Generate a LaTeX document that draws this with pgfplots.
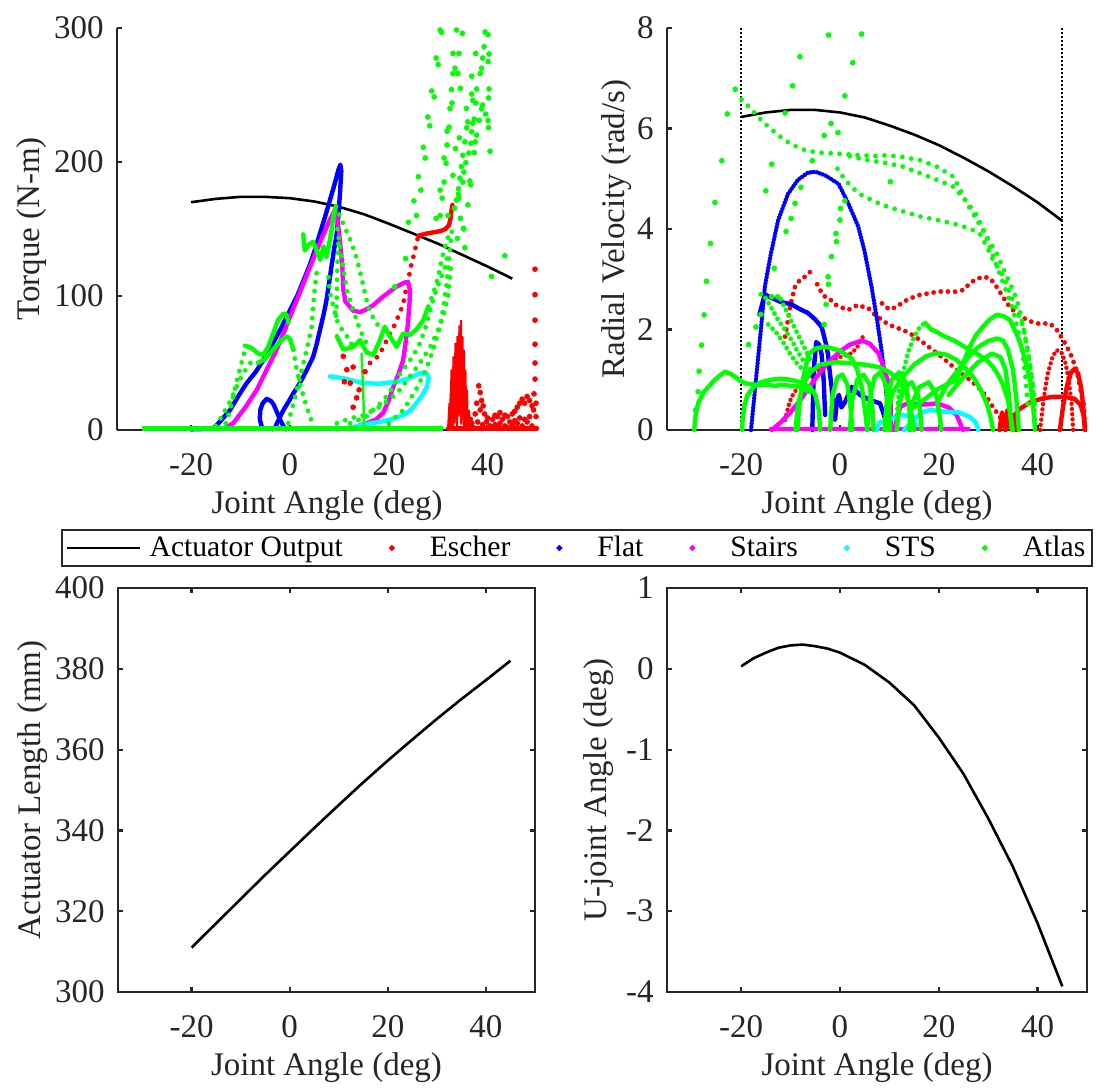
\documentclass[border=0pt]{standalone}
\usepackage{fontspec}
\setmainfont{Liberation Serif}
\usepackage{pgfplots}
\pgfplotsset{compat=1.18}
\definecolor{mred}{rgb}{1,0,0}
\definecolor{mblue}{rgb}{0,0,1}
\definecolor{mmag}{rgb}{1,0,1}
\definecolor{mcyan}{rgb}{0,1,1}
\definecolor{mgreen}{rgb}{0,1,0}
\definecolor{axc}{rgb}{0.15,0.15,0.15}
\newcommand{\fs}{\fontsize{16.5}{19}\selectfont}
\pgfplotsset{
 base/.style={scale only axis, xmin=-35, xmax=50, xtick={-20,0,20,40}, xticklabels={-20,0,20,40},
   tick align=inside, major tick length=2.6pt,
   axis line style={line width=1.1pt, draw=axc},
   tick style={line width=1.1pt, draw=axc},
   tick label style={font=\fs, text=axc},
   xticklabel style={anchor=base, yshift=-22.5pt, inner sep=0pt},
   yticklabel style={anchor=east, xshift=-6.5pt, inner sep=0pt},
   label style={font=\fs, text=axc},
   xlabel={Joint Angle (deg)},
   xlabel style={at={(axis description cs:0.5,-0.187)}, anchor=center},
   clip=false},
 sol/.style={no markers, line width=2.2pt, line join=round, line cap=round, forget plot},
 thin/.style={no markers, line width=1.2pt, line join=round, line cap=round, forget plot},
 chain/.style={no markers, line width=2.4pt, line cap=round, dash pattern=on 0pt off 4.5pt, forget plot},
 dchain/.style={no markers, line width=2.2pt, line cap=round, dash pattern=on 0pt off 2.6pt, forget plot},
 pts/.style={only marks, mark=*, mark size=1.2pt, forget plot},
 lgline/.style={legend image code/.code={\draw[##1, overlay] (0pt,0pt) -- (36.5pt,0pt); \path (0pt,0pt) -- (22.4pt,0pt);}},
}
\begin{document}
\begin{tikzpicture}
\useasboundingbox (0,0) rectangle (550.5pt,-544pt);
%================ TOP LEFT
\begin{axis}[axis x line*=bottom, axis y line*=left, base,
  at={(58.5pt,-215pt)}, anchor=south west, width=210pt, height=201pt,
  ymin=0, ymax=300, ytick={0,100,200,300}, yticklabels={0,100,200,300},
  ylabel={Torque (N-m)}, ylabel style={at={(axis description cs:-0.2036,0.5)}, anchor=center},
  legend columns=6,
  legend style={at={(axis description cs:1.096,-0.2935)}, anchor=center, draw=axc, line width=1pt,
    font=\fontsize{14.8}{17}\selectfont, inner xsep=2pt, inner ysep=1.7pt,
    nodes={inner sep=1.5pt},
    /tikz/every odd column/.append style={column sep=16.6pt},
    /tikz/every even column/.append style={column sep=22.1pt}},
  legend cell align=left]
\addlegendimage{black, line width=1.2pt, lgline}
\addlegendimage{only marks, mark=*, mark size=0.9pt, mred}
\addlegendimage{only marks, mark=*, mark size=0.9pt, mblue}
\addlegendimage{only marks, mark=*, mark size=0.9pt, mmag}
\addlegendimage{only marks, mark=*, mark size=0.9pt, mcyan}
\addlegendimage{only marks, mark=*, mark size=0.9pt, mgreen}
\legend{Actuator Output, Escher, Flat, Stairs, STS, Atlas}
% actuator
\addplot[black, no markers, line width=1.3pt, forget plot] coordinates {(-20,170)(-15,172.5)(-10,174)(-5,174)(0,173)(5,170.5)(10,166.5)(15,161)(20,154)(25,146.5)(30,139)(35,130.5)(40,122)(45,113)};
% Escher
\addplot[mred, pts] coordinates {(10.8,55)(12.8,47)(15.2,43.5)(12.2,35)(11,36)(12.8,17)(13.5,24)(11.5,45)(14,30)};
\addplot[mred, chain] coordinates {(16.2,50)(17.3,53)(18.2,57)(19.2,64)(20.2,72)(21,77)(21.6,82)(22.3,88)(22.9,94)(23.4,103)(23.9,112)(24.3,118)(24.6,124)(25.1,131)(25.6,139)(26,145)};
\addplot[mred, sol] coordinates {(26,145)(27.5,146.5)(29,147.5)(30.5,148.5)(31.5,150)(32.2,153)(32.5,158)(32.7,164)(32.9,168)};
\addplot[mred, no markers, line width=1.1pt, forget plot] coordinates {(32,0)(32.3,20)(32.5,2)(32.7,45)(32.9,3)(33.1,55)(33.3,5)(33.5,65)(33.7,8)(33.9,70)(34.1,10)(34.3,78)(34.5,12)(34.6,82)(34.8,15)(34.9,70)(35.1,8)(35.2,60)(35.4,5)(35.5,45)(35.7,3)(35.8,30)(36,2)(36.2,15)(36.5,0)};
\addplot[mred, no markers, line width=1.1pt, forget plot] coordinates {(32.2,0)(32.6,30)(33,0)(33.4,50)(33.8,2)(34.2,60)(34.7,4)(35,40)(35.3,2)(35.6,25)(36,0)};
\addplot[mred, sol] coordinates {(32,1.2)(50,1.2)};
\addplot[mred, pts] coordinates {(36.8,5)(37.5,12)(38.2,33)(38.5,28)(38.8,22)(39.1,18)(39.4,12)(39.8,6)(40.5,3)(41,8)(41.5,4)(42,10)(42.5,5)(43,8)(43.5,3)(44,10)(44.5,6)(45,12)(45.5,14)(46,17)(46.5,20)(47,23)(47.5,20)(48,25)(48.5,22)(49,18)(49.3,15)(48.5,10)(47.5,8)(46,5)(44,2)(37,2)(38,6)(39,4)(40,9)(42,2)(45,4)(47,3)(48,6)(49,3)(46.5,9)(45.5,7)(43.5,11)(42.5,13)(41.5,11)(38.5,15)(37.8,20)(36.5,8)(49.6,120)(49.6,101)(49.6,82)(49.6,64)(49.6,50)(49.6,38)(49.4,27)(49.8,20)(49.8,10)};
% Flat
\addplot[mblue, sol] coordinates {(-20,0.5)(-17,0.8)(-15.5,1.5)(-14.8,3.7)(-13.5,9)(-12.1,15)(-10.5,25)(-8.8,34.8)(-7,43)(-5.4,52)(-3.7,63)(-2,74.6)(-0.3,87)(1.4,99.5)(2.8,112)(4.1,124)(5.1,135)(6.1,147)(7.1,159)(8.1,171.6)(9,183)(9.8,194)(10.2,198)(10.4,193)(10.1,175)(9.8,160)(9.5,147)(8.9,134)(8.4,122)(7.9,109)(7.4,97)(6.8,86)(6.1,75)(5.4,64)(4.7,54.7)(3.7,47)(2.7,39.8)(1.7,33)(0.7,27.4)(-0.3,21)(-1.3,15)(-2.5,6)(-3,2)(-3.5,0.5)};
\addplot[mblue, sol] coordinates {(-5.6,1)(-6.1,8)(-6,15)(-5.5,20)(-4.7,23.3)(-3.8,21.5)(-3.3,19)(-2.6,13)(-1.9,7)(-1.2,2)(-0.8,0.5)};
% Stairs
\addplot[mmag, sol] coordinates {(-13.5,0.5)(-11.5,5)(-9,17)(-6.7,30)(-4.7,45)(-2.7,60)(-1.3,72)(0,84.5)(1.4,97)(2.7,109)(4,121)(5.4,134)(6.8,146)(8.1,157)(9.1,164)(9.6,158)(10.1,142)(10.4,130)(10.6,122)(10.8,105)(11.2,96)(12.8,89)(14.2,88)(15.5,90)(16.8,93)(19,100)(21.6,107)(23.2,110)(23.9,110.5)(24.3,104)(24.2,95)(23.9,80)(23.4,65)(22.9,52)(22,42)(20.9,32)(20,22)(18.9,13)(17.5,8)(15.5,5)(13,2)(10,0.8)};
% STS
\addplot[mcyan, sol] coordinates {(8.1,40)(11,38.5)(14.8,35)(18,34.5)(21.6,36)(24,38.5)(26.3,42.3)(27.6,42.5)(28.1,39)(27.7,32)(26.8,26)(25.6,20)(24.5,15)(22.9,11)(20.5,8)(18.2,6)(16.2,5)(14,3)(12,1.5)};
% Atlas
\addplot[mgreen, no markers, line width=2.4pt, forget plot] coordinates {(-30,1)(31,1)};
\addplot[mgreen, sol] coordinates {(-9.1,63)(-7.7,61)(-6.4,57)(-5.4,56)(-4.4,62)(-3.4,72)(-2.4,82)(-1.3,87)(-0.7,86)(-0.3,80)};
\addplot[mgreen, sol] coordinates {(-6.5,50)(-5,53)(-3.4,60)(-2,66)(-0.7,70)(0,68)(0.7,60)};
\addplot[mgreen, chain] coordinates {(-15,3)(-13.5,12)(-12,22)(-10.8,32)(-9.5,42)(-8,50)};
\addplot[mgreen, chain] coordinates {(-13,5)(-12.1,15)(-11.3,28)(-10.5,40)(-9.8,50)(-9.1,60)};
\addplot[mgreen, chain] coordinates {(5.4,117)(5,104.5)(4.7,92)(4.4,77)(3.4,60)(2.4,45)(1.4,30)(0.7,20)(0,10)(-0.5,3)};
\addplot[mgreen, chain] coordinates {(0.7,60)(1.2,48)(2,35)(3,22)(4,10)(5,3)};
\addplot[mgreen, sol] coordinates {(2.7,146)(3,134)(3.7,138)(4.7,140.5)(5.4,134)(6.1,127)(6.8,137)(7.4,129)(8.1,142)(8.8,159)(9.3,167)};
\addplot[mgreen, chain] coordinates {(9.3,167)(10.8,154)(12.2,142)(13.2,132)(14,121)(14.7,110)(15.3,100)(15.9,92)(16.5,86)(17.5,80)(18.5,74)};
\addplot[mgreen, chain] coordinates {(9.8,139)(9.6,122)(9.5,104)(9.4,90)(9.3,80)};
\addplot[mgreen, chain] coordinates {(9.6,150)(10.5,128)(11.5,104)(12.8,89.5)(14.2,74.6)(15.5,64.7)};
\addplot[mgreen, chain] coordinates {(7.8,114)(8.1,102)(8.8,92)(9.5,82)(10.8,73)(12.2,67)(12.8,60)};
\addplot[mgreen, sol] coordinates {(9.5,70)(10.8,60)(12.8,62)(14.2,67)(15.5,58)(16.9,56)(18.2,67)(19.2,77)(20.2,70)(21.6,62)(22.9,72)(24.3,71)(25.6,75)(27,82)(28,92)};
\addplot[mgreen, chain] coordinates {(28,92)(29,102)(30,114)(30.7,127)(31.4,137)(32,144)};
\addplot[mgreen, thin] coordinates {(14.5,57)(14.7,40)(14.9,20)(15,3)};
\addplot[mgreen, chain] coordinates {(12.2,5)(15.5,10)(18.9,22)(20.9,32)(22.3,42)(24.3,52)(26,62)(27.3,74.6)(28.4,89.5)(29.4,102)(30.4,112)(31.4,122)(32,132)};
\addplot[mgreen, chain] coordinates {(9.5,5)(12.2,8.7)(14.9,11)(18.2,17.4)(21.6,27)(24.3,40)(26.3,50)(28.4,62)(29.7,72)(31,84.5)(32,99.5)(32.4,114)(32.7,127)};
\addplot[mgreen, chain] coordinates {(20,5)(23,15)(25.5,30)(27.5,45)(29,60)(30.2,75)(31,90)(31.6,105)(32,120)(32.4,135)(32.8,150)};
\addplot[mgreen, pts] coordinates {(30.4,298.5)(33.7,298.5)(34.9,296)(39.5,297)(40.1,295)(29.6,277.6)(33,281)(34.2,281)(37.6,281)(39.3,286)(40.3,280.6)(39,277.6)(40.1,275)(38.8,270)(33.4,270)(33,266)(34,266)(36.8,264)(38.5,266)(28.7,253)(32.7,254)(36.8,250.7)(37.8,254.5)(40.3,254.5)(40.2,247.8)(37,246)(37.6,244)(32.8,244)(32.4,240)(39,242.5)(38.8,239.6)(39.6,235.8)(27.9,233.6)(37.3,232)(38.3,231)(36,230)(40.1,231)(37,229)(32.2,226)(40.2,225.6)(31.8,223)(35.8,225.6)(36.8,222.6)(37.8,220)(27,211)(31.8,212.7)(35.4,215)(36.6,214)(37.5,215)(40.5,208)(35,205)(36.2,206.7)(37.3,207)(31.2,203)(31.6,199)(35.6,199.5)(34.7,196.5)(35.2,192.5)(26,189)(34.4,188)(35,185)(36.4,185.8)(36.6,183)(31.2,185)(25.1,171)(30.4,179)(34.1,180)(34.1,176)(36,168)(30.8,173)(33.7,171.6)(24,155)(29.6,158)(30.4,160)(35.2,150)(33.3,165.6)(40.8,114.6)(35.4,136)(30,272.7)(29.2,248.6)(28.3,227)(27.4,203)(26.5,179)(25.6,160)(23.4,128)(21.2,106.7)(30.7,296.8)(35.1,150.5)(33.9,143)(34.5,158)(32,160)(34.2,173)(33,190)(33.5,210)(34.3,218)(35.7,240)(34.5,255)(43.5,130)};
\end{axis}
%================ TOP RIGHT
\begin{axis}[axis x line*=bottom, axis y line*=left, base,
  at={(333.5pt,-215pt)}, anchor=south west, width=210pt, height=201pt,
  ymin=0, ymax=8, ytick={0,2,4,6,8}, yticklabels={0,2,4,6,8},
  ylabel={Radial Velocity (rad/s)}, ylabel style={at={(axis description cs:-0.119,0.5)}, anchor=center}]
\addplot[black, no markers, line width=1.3pt, forget plot] coordinates {(-20,6.23)(-15,6.32)(-10,6.37)(-5,6.37)(0,6.32)(5,6.22)(10,6.06)(15,5.88)(20,5.67)(25,5.42)(30,5.15)(35,4.85)(40,4.53)(45,4.16)};
\addplot[black, no markers, line width=0.9pt, dash pattern=on 1pt off 1pt, forget plot] coordinates {(-20,0)(-20,8)};
\addplot[black, no markers, line width=0.9pt, dash pattern=on 1pt off 1pt, forget plot] coordinates {(45,0)(45,8)};
% Escher
\addplot[mred, chain, dash pattern=on 0pt off 3.6pt] coordinates {(-11.1,1.86)(-10.5,2.2)(-10,2.5)(-9.1,2.85)(-8,3.0)(-7.1,3.05)(-6.3,3.12)(-5.7,3.18)};
\addplot[mred, chain, dash pattern=on 0pt off 3.6pt] coordinates {(-4.6,2.9)(-3.8,2.75)(-3,2.65)(-2,2.6)(-1,2.5)(0,2.45)(1.7,2.39)(2.8,2.45)(3.7,2.49)(4.7,2.45)(5.7,2.43)(7,2.3)(8.5,2.19)(9.5,2.12)(11,2.05)(12.8,1.99)(14.5,1.9)(16.2,1.79)(18,1.65)(19.6,1.53)(21,1.42)(22.9,1.26)(24.5,1.13)(26.3,1.0)(28,0.85)(29.7,0.66)(31,0.45)(32.4,0.26)(33,0)};
\addplot[mred, chain, dash pattern=on 0pt off 3.6pt] coordinates {(8.5,2.52)(10,2.4)(11.5,2.45)(12.8,2.55)(14.5,2.63)(16.2,2.69)(18,2.72)(19.6,2.75)(21,2.76)(22.9,2.75)(24,2.76)(25,2.79)(26.3,2.92)(27.5,3.0)(29,3.05)(30.4,3.02)(31.7,2.85)(33,2.65)(34,2.5)(35,2.39)(36.5,2.28)(37.8,2.19)(39.8,2.12)(41,2.12)(42.5,2.12)(43.9,1.99)(45.2,1.79)(46.6,1.53)(47.9,1.19)(48.7,0.8)(49.3,0.53)(49.6,0.07)};
\addplot[mred, dchain] coordinates {(-11.1,0.2)(-10.5,0.45)(-9.8,0.66)(-8.5,0.85)(-7.1,1.0)(-5.8,1.1)(-4.4,1.19)(-3,1.3)(-1.7,1.39)(0.3,1.46)(2.4,1.53)(3.5,1.65)(4.3,1.8)(5.1,1.93)};
\addplot[mred, sol] coordinates {(33.5,0)(34.5,0.2)(36.4,0.42)(38.5,0.55)(41,0.63)(43.2,0.66)(45.5,0.66)(47.5,0.62)(48.7,0.5)(49.3,0.3)(49.6,0)};
\addplot[mred, dchain] coordinates {(40.5,0)(41.2,0.6)(42,1.1)(43,1.45)(43.8,1.59)(44.8,1.55)(45.6,1.35)(46.3,1.0)(46.9,0.5)(47.2,0)};
\addplot[mred, sol] coordinates {(44.5,0)(45.2,0.5)(46,0.9)(46.8,1.15)(47.5,1.22)(48.2,1.12)(48.8,0.85)(49.2,0.5)(49.6,0)};
\addplot[mred, sol] coordinates {(32.3,0)(32.8,0.35)(33.3,0.05)(33.9,0.4)(34.5,0.05)(35,0.3)(35.6,0)};
% Flat
\addplot[mblue, dchain, dash pattern=on 0pt off 1.6pt] coordinates {(-18,0)(-17,1.0)(-16,2.0)(-15.2,2.85)(-14,3.5)(-12.5,4.18)(-10.5,4.7)(-8.5,4.98)(-6.5,5.12)(-5,5.14)(-3,5.07)(-0.3,4.9)(1.5,4.55)(3.7,4.05)(5,3.55)(6.4,2.85)(7.5,2.2)(8.5,1.53)(9.2,0.9)(9.7,0.4)(10,0)};
\addplot[mblue, sol] coordinates {(-16.3,2.3)(-15.2,2.7)(-14.3,2.65)(-12,2.55)(-9.8,2.5)(-8,2.4)(-6.5,2.33)(-5,2.2)(-3.7,2.05)(-2.8,1.7)(-2.4,1.5)(-2,1.1)(-1.7,0.86)(-1.3,0.4)(-1,0.2)(-0.6,0.6)(-0.2,0.7)(0.3,0.45)(1,0.55)(2.4,0.86)(4,0.7)(6,0.6)(8.1,0.53)(8.8,0.33)(9.5,0.1)};
\addplot[mblue, sol] coordinates {(-5.6,0)(-5.3,1.2)(-4.8,1.75)(-4.2,1.7)(-3.7,1.5)(-3.3,1.0)(-3,0.3)};
% Stairs
\addplot[mmag, sol] coordinates {(-13.8,0)(-12,0.15)(-10,0.35)(-8,0.6)(-6,0.88)(-4,1.15)(-2,1.38)(0,1.56)(2,1.7)(4.4,1.78)(6,1.72)(7.8,1.53)(9,1.2)(10.1,0.86)(10.3,0.4)(10.4,0)};
\addplot[mmag, sol] coordinates {(-14,0.02)(26,0.02)};
\addplot[mmag, sol] coordinates {(11,0)(12.2,0.46)(14,0.55)(16,0.5)(19.6,0.53)(22,0.45)(23.6,0.3)(24.9,0)};
% STS
\addplot[mcyan, sol] coordinates {(13,0)(14.9,0.2)(16.5,0.35)(18.2,0.4)(20,0.38)(21.6,0.36)(24,0.35)(26.3,0.26)(27.5,0.15)(28,0)};
\addplot[mcyan, sol] coordinates {(7.5,0)(8,0.15)(10,0.2)(12,0.3)(14,0.28)(15.5,0.1)};
% Atlas
\addplot[mgreen, sol] coordinates {(-29.5,0)(-29.2,0.3)(-28.7,0.53)(-27.6,0.75)(-26.6,0.86)(-25.5,0.98)(-24.6,1.06)(-23.3,1.16)(-22.2,1.12)(-21.2,1.06)(-20.2,0.98)(-19.2,0.93)(-17,0.9)(-15.2,0.9)(-13,0.88)(-11.8,0.9)(-10,0.88)(-8.4,0.86)(-7.1,0.8)(-6,0.75)};
\addplot[mgreen, sol] coordinates {(-19.8,0)(-19.7,0.2)(-19.3,0.5)(-18.7,0.7)(-17.5,0.85)(-16,0.95)(-14,1.0)(-12,1.02)(-10,1.0)(-8,0.95)(-6,0.85)(-5,0.7)(-4.3,0.4)(-4,0)};
\addplot[mgreen, sol] coordinates {(-8.6,0)(-8.2,0.5)(-7.5,1.0)(-6.4,1.5)(-5,1.62)(-3,1.66)(-1.5,1.62)(0,1.58)(1.2,1.5)(2.4,1.42)(3.5,1.2)(4.5,0.8)(5.2,0.3)(5.5,0)};
\addplot[mgreen, sol] coordinates {(-9,0)(-8.5,0.5)(-7.5,0.9)(-6,1.15)(-4,1.3)(-1,1.35)(2,1.33)(5,1.3)(8,1.25)(10,1.15)(12,1.0)(13.5,0.7)(14.5,0.3)(15,0)};
\addplot[mgreen, sol] coordinates {(-2,0)(-1.5,0.7)(-0.5,1.05)(0.5,1.1)(1.5,0.9)(2.2,0.4)(2.5,0)};
\addplot[mgreen, sol] coordinates {(2,0)(2.5,0.6)(3.5,1.0)(4.8,1.1)(6,0.9)(6.6,0.4)(6.8,0)};
\addplot[mgreen, sol] coordinates {(5.5,0)(6,0.6)(7,1.05)(8.2,1.15)(9.3,0.9)(9.9,0.4)(10.1,0)};
\addplot[mgreen, sol] coordinates {(9,0)(9.5,0.6)(10.5,1.0)(12,1.15)(13.3,0.95)(14,0.5)(14.3,0)};
\addplot[mgreen, sol] coordinates {(11.5,0)(12,0.5)(13,0.85)(14.5,0.95)(15.8,0.7)(16.3,0.3)(16.5,0)};
\addplot[mgreen, sol] coordinates {(14,0)(14.5,0.5)(16,0.85)(18,0.95)(19.5,0.7)(20.3,0.2)(20.5,0)};
\addplot[mgreen, chain, dash pattern=on 0pt off 3pt] coordinates {(11.5,0.3)(12,0.8)(12.8,1.15)(13.8,1.55)(15,1.85)(16.2,2.05)(17.2,2.13)};
\addplot[mgreen, sol] coordinates {(17.2,2.13)(18.5,2.0)(19.6,1.95)(21,1.87)(22.9,1.79)(24.5,1.7)(26.3,1.59)(28,1.5)(29.7,1.39)(31,1.25)(32,1.1)(33,0.9)(34,0.6)(34.5,0.3)(35,0)};
\addplot[mgreen, sol] coordinates {(9.3,0)(9.8,0.4)(10.7,0.75)(12.8,1.06)(15,1.3)(17.5,1.47)(19.6,1.53)(21.5,1.5)(23.5,1.4)(25.5,1.22)(27,1.05)(28.5,0.8)(29.7,0.53)(30.5,0.25)(31,0)};
\addplot[mgreen, sol] coordinates {(15,0.45)(17,0.6)(19.6,0.8)(21.5,0.9)(23.6,1.0)(25,1.35)(26.3,1.66)(27.5,1.88)(29,2.06)(30.3,2.2)(31.7,2.29)(33,2.27)(34.4,2.19)(35.7,1.92)(36.5,1.72)(37.1,1.53)(37.8,1.25)(38.5,1.0)(39.1,0.46)(39.5,0)};
\addplot[mgreen, sol] coordinates {(20,0.6)(22,0.95)(24,1.2)(26,1.45)(28,1.65)(30,1.77)(31.8,1.82)(33,1.78)(34,1.6)(35,1.2)(35.5,0.8)(36,0.3)(36.2,0)};
\addplot[mgreen, sol] coordinates {(22,0.7)(25,1.05)(28,1.35)(30.7,1.52)(32.5,1.45)(33.5,1.2)(34.2,0.7)(34.6,0.2)(34.8,0)};
\addplot[mgreen, chain] coordinates {(-19.9,6.58)(-18.2,6.41)(-16.8,6.26)(-15.5,6.12)(-14,6)(-12.7,5.88)(-10.1,5.7)(-8.8,5.64)(-7.1,5.57)(-4.4,5.52)(-0.3,5.5)(3.7,5.47)(7.8,5.45)(9.5,5.47)(12.8,5.43)(16.2,5.37)(19.6,5.24)(23,5.04)(25.7,4.51)(27.7,4.18)(29.7,3.85)(31.7,3.52)(33.1,3.2)(34.5,2.9)(35.8,2.6)(36.6,2.3)(37.3,1.95)(38,1.6)(38.5,1.3)(39,0.9)(39.3,0.5)(39.5,0.1)};
\addplot[mgreen, chain] coordinates {(2,5.45)(5,5.38)(9.5,5.31)(12.8,5.24)(16.2,5.11)(19.6,4.98)(23,4.84)(25.7,4.54)(27.5,4.3)(29,4.0)(30.5,3.6)(32,3.2)(33.5,2.8)(35,2.4)(36,2.0)(37,1.5)(37.6,1.0)(38,0.5)};
\addplot[mgreen, chain] coordinates {(-0.5,5.2)(1,4.98)(3.7,4.71)(6.4,4.58)(8.5,4.48)(9.46,4.45)(12.8,4.35)(16.2,4.25)(19.6,4.18)(22.9,4.11)(26.3,4.01)(28.3,3.91)(29.7,3.65)(31,3.38)(33.1,3.05)(34.4,2.72)(35.7,2.39)(37.1,2.06)(37.8,1.66)(38.5,1.26)(39.1,0.86)(39.5,0.46)};
\addplot[mgreen, chain, dash pattern=on 0pt off 3pt] coordinates {(-16,2.7)(-15.2,2.65)(-14,2.45)(-12.5,2.19)(-11,1.98)(-9.8,1.79)(-8.5,1.55)(-7.1,1.33)(-6,1.2)};
\addplot[mgreen, chain, dash pattern=on 0pt off 3pt] coordinates {(-14.5,2.1)(-13,1.95)(-11.5,1.75)(-10,1.5)(-8.5,1.3)(-7,1.15)};
\addplot[mgreen, chain, dash pattern=on 0pt off 3pt] coordinates {(-12,2.6)(-10.5,2.3)(-9,2.0)(-7.5,1.7)(-6,1.4)};
\addplot[mgreen, pts] coordinates {(-28.7,0.76)(-28.5,1.17)(-28,1.69)(-27.5,2.29)(-27,2.96)(-26.2,3.71)(-25.3,4.53)(-23.9,5.36)(-22.8,6.29)(-21.2,6.78)(-2.3,7.86)(4.4,7.88)(-8.1,7.43)(2.6,7.31)(-9.6,6.85)(1,6.65)(-11.1,6.31)(-1.8,6.1)(-0.4,5.92)(-3.2,5.86)(-13.8,5.29)(-5.6,5.36)(-15,4.76)(-7.9,4.83)(-9.1,4.51)(1,4.56)(0.1,4.41)(-9.9,4.21)(0,4.18)(-10.9,3.95)(-0.8,3.91)(-0.7,3.75)(-1.7,3.45)(-13.3,3.22)(-2.4,3.05)(-2.3,2.9)(-2.8,2.5)(-3.2,2.1)(10.2,4.94)(-29.2,0.4)(-16,2.3)(-17,2.05)(-18.5,1.7)(-13.8,2.65)(-12.6,2.65)};
\end{axis}
%================ BOTTOM LEFT
\begin{axis}[base, xtick pos=both, ytick pos=both,
  at={(59pt,-496pt)}, anchor=south west, width=208.5pt, height=202pt,
  ymin=300, ymax=400, ytick={300,320,340,360,380,400}, yticklabels={300,320,340,360,380,400},
  ylabel={Actuator Length (mm)}, ylabel style={at={(axis description cs:-0.204,0.5)}, anchor=center},
  xlabel style={at={(axis description cs:0.5,-0.186)}, anchor=center}]
\addplot[black, no markers, line width=1.3pt] coordinates {(-20,311)(-15,317)(-10,323)(-5,329)(0,334.8)(5,340.6)(10,346.3)(15,351.9)(20,357.3)(25,362.5)(30,367.6)(35,372.5)(40,377.2)(45,382)};
\end{axis}
%================ BOTTOM RIGHT
\begin{axis}[base, xtick pos=both, ytick pos=both,
  at={(333.5pt,-496pt)}, anchor=south west, width=210pt, height=202pt,
  ymin=-4, ymax=1, ytick={-4,-3,-2,-1,0,1}, yticklabels={-4,-3,-2,-1,0,1},
  ylabel={U-joint Angle (deg)}, ylabel style={at={(axis description cs:-0.164,0.5)}, anchor=center},
  xlabel style={at={(axis description cs:0.5,-0.186)}, anchor=center}]
\addplot[black, no markers, line width=1.3pt] coordinates {(-20,0.03)(-17.5,0.13)(-15,0.2)(-12.5,0.26)(-10,0.29)(-7.5,0.3)(-5,0.28)(-2.5,0.25)(0,0.2)(5,0.05)(10,-0.17)(15,-0.45)(20,-0.85)(25,-1.3)(30,-1.85)(35,-2.45)(40,-3.15)(45,-3.93)};
\end{axis}
\end{tikzpicture}
\end{document}
